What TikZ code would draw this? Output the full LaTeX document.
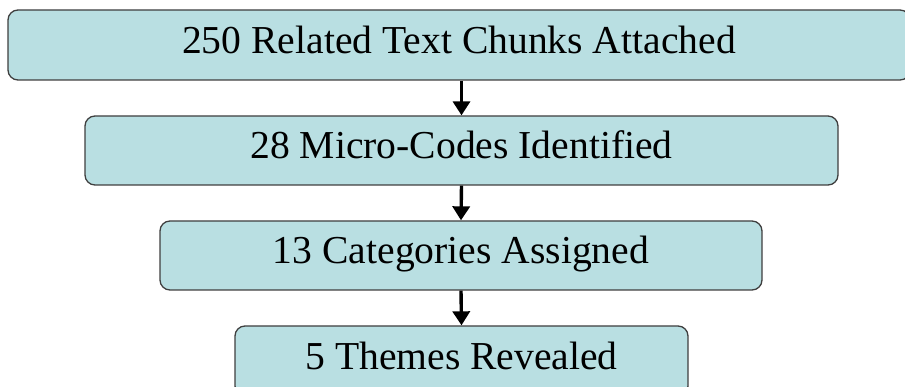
\documentclass[tikz,border=0pt]{standalone}
\usepackage{fontspec}
\setmainfont{Liberation Serif}
\usepackage{tikz}
\usetikzlibrary{arrows.meta}
\definecolor{boxfill}{HTML}{B9DFE2}
\definecolor{boxline}{HTML}{3F3F3F}
\tikzset{stagebox/.style={rectangle, rounded corners=10pt, draw=boxline, line width=1.3pt,
      fill=boxfill, inner sep=0pt, minimum height=70pt, text height=27pt, text depth=10pt,
      font=\rmfamily\fontsize{39.6}{42}\selectfont}}
\tikzset{flowarrow/.style={-{Triangle[length=14pt,width=17pt]}, line width=3.4pt, black}}

\begin{document}
\begin{tikzpicture}[x=1pt,y=-1pt]
		\useasboundingbox (0,0) rectangle (905,387);
		\clip (0,0) rectangle (905,387);
		\node[stagebox, minimum width=902pt] (chunks) at (459,45) {250 Related Text Chunks Attached};
		\node[stagebox, minimum width=753pt, minimum height=69pt] (codes) at (461.5,150.5) {28 Micro-Codes Identified};
		\node[stagebox, minimum width=602pt, minimum height=69pt] (cats) at (461,255.5) {13 Categories Assigned};
		\node[stagebox, minimum width=453pt] (themes) at (461.5,361) {5 Themes Revealed};
		\draw[flowarrow] (chunks.south -| codes.north) -- (codes.north);
		\draw[flowarrow] (codes.south) -- (cats.north);
		\draw[flowarrow] (cats.south) -- (themes.north);
		\end{tikzpicture}
\end{document}
